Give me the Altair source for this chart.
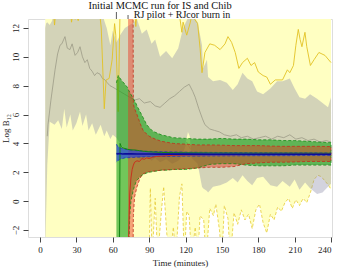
import altair as alt
import pandas as pd

# ---- x ticks / y ticks ----
x_ticks = [0, 30, 60, 90, 120, 150, 180, 210, 240]
y_ticks = [-2, 0, 2, 4, 6, 8, 10, 12]

# ---- phase boundaries (minutes) ----
phase_end = [63, 72.6]
phase_text = ["Initial MCMC run for IS and Chib", "RJ pilot + RJcor burn in"]

# ---- grey band (estimator spread) ----
gray_t = [4.3, 5, 6, 8, 10, 12, 15, 18, 20, 22, 25, 27, 30, 33, 35, 38, 40, 43, 46, 50,
          53, 55, 58, 60, 63, 66, 70, 76, 80, 84, 88, 92, 95, 99, 104, 109, 114, 118, 122, 123.5,
          125, 130, 133.6, 134.4, 137.7, 138.6, 142.7, 148.5, 154, 159, 163, 167, 171, 175, 179, 184,
          190, 195.5, 200, 206, 210, 214, 218.6, 222.7, 228.5, 233, 237.5, 240]
gray_lo = [-4, -1, 2.5, 5.5, 5.4, 5.3, 5.6, 5.0, 6.4, 5.1, 6.0, 4.9, 5.4, 6.2, 5.2, 6.0, 4.9, 5.4, 4.6, 5.3,
           4.5, 4.9, 4.3, 4.6, 4.4, 4.0, 3.6, 3.3, 3.0, 2.9, 3.1, 2.8, 3.0, 2.7, 2.9, 2.6, 2.8, 3.2, 4.8, 4.5,
           3.0, 2.6, 1.0, 0.9, 0.7, 0.6, 1.0, 1.1, 1.3, 1.6, 1.3, 1.8, 1.4, 1.1, 1.6, 1.7,
           1.1, 1.0, 1.4, 1.0, 1.5, 0.8, 1.3, 0.9, 0.5, 0.6, 1.0, 1.2]
gray_hi = [12.0, 12.3, 12.4, 12.2, 12.5, 13.5, 13.5, 13.5, 13.5, 13.5, 13.5, 13.5, 13.5, 13.5, 13.5, 13.5, 13.5, 13.5, 13.5, 13.5,
           12.5, 12.0, 10.8, 11.8, 11.0, 11.5, 12.0, 12.3, 12.6, 11.6, 11.9, 10.9, 11.2, 10.0, 10.4, 9.9, 10.6, 12.0, 12.7, 12.8,
           13.0, 12.4, 10.8, 9.2, 9.8, 8.6, 8.3, 8.4, 8.2, 7.7, 8.1, 8.9, 8.5, 8.3, 7.6, 7.4,
           7.8, 8.3, 8.3, 8.5, 7.8, 7.2, 7.1, 7.4, 7.1, 6.8, 6.5, 7.2]
gray_mid_t = [6, 6.6, 9, 12.4, 14.5, 16.5, 18, 20.6, 22.5, 24.7, 26.5, 28.9, 31, 33, 35, 37, 39, 41, 43, 45,
              47, 49.5, 51.5, 53.6, 55.5, 57.7, 60, 62, 66, 70, 74, 78, 82, 86, 91, 95, 99, 103, 107, 111,
              115, 119, 123, 126, 128, 131, 134, 136, 140, 144, 148, 152, 157, 162, 166, 171, 176, 181, 186, 191,
              196, 201, 206, 211, 216, 221, 226, 231, 236, 240]
gray_mid = [4.5, 5.3, 7.0, 9.1, 10.2, 10.8, 10.9, 11.4, 10.6, 10.5, 10.9, 10.1, 10.3, 10.7, 10.0, 9.6, 9.8, 9.2, 9.0, 8.7,
            8.9, 8.8, 8.5, 8.4, 8.2, 8.0, 7.9, 7.8, 7.6, 7.4, 7.2, 7.0, 7.1, 6.8, 6.9, 6.6, 6.5, 6.8, 7.1, 7.3,
            7.6, 7.9, 8.1, 7.6, 7.2, 6.4, 5.7, 5.3, 5.0, 4.9, 4.8, 4.6, 4.5, 4.6, 4.4, 4.5, 4.3, 4.4, 4.5, 4.3,
            4.5, 4.4, 4.6, 4.3, 4.4, 4.2, 4.3, 4.1, 4.2, 4.1]

# ---- yellow band (lower edge; upper edge lies above the plot) ----
yel_t = [4.3, 88, 90, 91, 92.5, 95, 97, 100, 102, 104.5, 107, 110, 112, 115, 117, 119, 121, 123, 125, 128,
         130, 132, 135, 137, 140, 143, 145, 148, 150, 152, 155, 157, 160, 163, 166, 169, 172, 175, 178, 181,
         184, 187, 190, 193, 196, 199, 202, 205, 208, 211, 214, 217, 220, 223, 226, 229, 232, 235, 238, 240]
yel_lo = [-4, -4, -4, 0.9, -4, 0.2, -4, -0.8, 1.0, -2.2, -4, -1.8, -4, 0.3, 1.2, -4, -0.7, -1.0, -4, -1.8,
          -4, -1.0, -1.3, -4, -0.5, -1.0, -0.2, -2.0, -4, -0.3, -1.2, -4, -0.8, -1.6, -0.6, -1.3, -0.9, -1.9, -0.6, -0.2,
          -1.5, -2.2, -0.9, -1.3, -0.4, -0.7, -0.1, 0.2, -0.5, 0.1, -0.3, 0.2, -0.1, 0.6, 1.5, 1.8, 1.7, 1.4, 1.1, 0.8]
yel_mid_t = [5, 11, 12, 13, 25, 26, 27, 29, 30, 31.5, 33, 49, 50.5, 53, 54.5, 57, 59.5, 61.5, 62.5, 64.5,
             66, 78, 79, 80, 113, 115.5, 117, 118, 121, 124, 125, 130, 132, 133.6, 136, 140, 144, 148.5, 152.6, 155,
             158, 161, 164, 167, 171, 174, 177, 180, 184, 187, 190, 194, 200, 204, 206, 209, 211, 213, 214.5, 216,
             218.5, 220, 223, 226, 230, 235, 240]
yel_mid = [14, 13.2, 12.2, 13.2, 13.2, 12.4, 13.0, 12.6, 12.9, 12.5, 13.2, 13.2, 12.0, 6.4, 8.4, 8.5, 9.8, 12.3, 11.5, 6.2,
           13.2, 13.2, 12.1, 13.2, 13.2, 12.6, 11.7, 12.4, 11.5, 12.4, 12.9, 12.3, 10.6, 8.9, 10.3, 10.9, 10.8, 10.5, 10.9, 11.4,
           11.0, 10.3, 9.2, 9.6, 9.9, 9.4, 9.6, 8.95, 8.7, 8.6, 8.1, 8.4, 8.4, 9.1, 8.9, 9.4, 10.8, 11.9, 11.2, 10.7,
           11.7, 10.7, 9.4, 9.8, 10.3, 10.1, 9.6]

# ---- green band ----
green_t = [63, 64.5, 67, 70, 72, 73, 74, 75, 77, 79, 80, 82.5, 85, 88, 90, 93, 97, 100, 105, 110,
           120, 130, 140, 150, 160, 170, 180, 190, 200, 210, 220, 230, 240]
green_hi = [8.2, 8.7, 8.4, 8.1, 7.9, 7.7, 7.55, 7.4, 7.1, 6.8, 6.6, 6.2, 5.8, 5.3, 5.1, 4.85, 4.7, 4.6, 4.5, 4.4,
            4.35, 4.3, 4.3, 4.35, 4.3, 4.3, 4.25, 4.25, 4.2, 4.2, 4.15, 4.1, 4.05]
green_lo = [-4, -4, -4, -4, -4, -4, -1.0, 0.0, 0.8, 1.3, 1.45, 1.7, 1.85, 1.95, 2.0, 2.05, 2.1, 2.15, 2.15, 2.2,
            2.2, 2.3, 2.55, 2.6, 2.6, 2.5, 2.45, 2.45, 2.45, 2.5, 2.5, 2.5, 2.5]
green_mid_t = [65.5, 66, 67, 68, 70, 72, 75, 78, 82, 86, 90, 95, 100, 110, 120, 140, 170, 200, 240]
green_mid = [-4, 4.0, 3.8, 3.7, 3.65, 3.6, 3.55, 3.55, 3.5, 3.45, 3.42, 3.4, 3.38, 3.36, 3.35, 3.34, 3.33, 3.33, 3.32]

# ---- red band ----
red_t = [72.6, 74, 76, 76.7, 77, 78, 80, 82.5, 85, 88, 90, 95, 100, 110, 120, 130, 140, 150, 160, 170,
         180, 190, 200, 210, 220, 230, 240]
red_hi = [15, 15, 15, 15, 6.7, 6.4, 6.0, 5.4, 4.9, 4.65, 4.5, 4.3, 4.15, 4.0, 3.95, 3.9, 3.9, 3.88, 3.85, 3.85,
          3.85, 3.82, 3.8, 3.8, 3.8, 3.8, 3.78]
red_lo = [-4, -4, -4, -4, -1.0, 0.3, 1.0, 1.6, 1.9, 2.0, 2.05, 2.1, 2.15, 2.2, 2.25, 2.3, 2.35, 2.35, 2.4, 2.6,
          2.65, 2.7, 2.7, 2.72, 2.75, 2.75, 2.75]
red_mid_t = [73, 74, 75, 76, 77, 78, 80, 82, 84, 86, 88, 90, 93, 96, 100, 105, 110, 120, 140, 160, 180, 200, 220, 240]
red_mid = [-3, 0.5, 1.6, 2.2, 2.5, 2.7, 2.8, 2.75, 2.95, 2.9, 3.0, 2.95, 3.05, 3.1, 3.12, 3.15, 3.18, 3.2, 3.22, 3.22,
           3.24, 3.24, 3.25, 3.25]

# ---- blue band ----
blue_t = [63, 64, 66, 68, 70, 75, 80, 90, 100, 120, 140, 160, 180, 200, 220, 240]
blue_lo = [2.7, 2.8, 2.9, 2.95, 3.0, 3.02, 3.05, 3.08, 3.1, 3.12, 3.13, 3.14, 3.15, 3.15, 3.16, 3.16]
blue_hi = [3.95, 3.8, 3.7, 3.65, 3.6, 3.55, 3.5, 3.45, 3.43, 3.4, 3.38, 3.37, 3.36, 3.35, 3.35, 3.34]
blue_mid = [3.3, 3.28, 3.3, 3.27, 3.29, 3.28, 3.27, 3.27, 3.26, 3.26, 3.25, 3.25, 3.25, 3.25, 3.25, 3.25]

# ---- pale running estimate ----
pale_t = [82, 85, 88, 91, 94, 97, 100, 103, 106, 109, 112, 115, 118, 121, 124, 127, 130, 133]
pale_v = [2.9, 3.4, 3.0, 3.6, 3.2, 3.7, 3.3, 3.8, 3.4, 3.6, 3.2, 3.9, 3.5, 4.1, 3.6, 3.9, 3.4, 3.8]

FONT = "Liberation Serif"
xs = alt.Scale(domain=[-9.9, 240.8], nice=False, zero=False)
ys = alt.Scale(domain=[-2.48, 12.62], nice=False, zero=False)
x_axis = alt.Axis(values=x_ticks, grid=False, domain=False, tickSize=5, tickColor="#444",
                  labelFont=FONT, labelFontSize=9, labelColor="#222", labelPadding=3, labelOverlap=False,
                  titleFont=FONT, titleFontSize=9, titleFontWeight="normal", titleColor="#222", titlePadding=4)
y_axis = alt.Axis(values=y_ticks, grid=False, domain=False, tickSize=5, tickColor="#444",
                  labelFont=FONT, labelFontSize=9, labelColor="#222", labelAngle=270, labelOverlap=False,
                  labelAlign="center", labelBaseline="bottom", labelPadding=3,
                  titleFont=FONT, titleFontSize=9, titleFontWeight="normal", titleColor="#222", titlePadding=1)


def X(f="t"):
    return alt.X(f"{f}:Q", scale=xs, axis=x_axis, title="Time (minutes)")


def Y(f):
    return alt.Y(f"{f}:Q", scale=ys, axis=y_axis, title="Log B₁₂")


def band(t, lo, hi):
    return pd.DataFrame({"t": t, "lo": lo, "hi": hi})


def series(t, v):
    return pd.DataFrame({"t": t, "v": v})


def outline(t, lo, hi):
    tt = list(t) + list(reversed(t))
    vv = list(hi) + list(reversed(lo))
    return pd.DataFrame({"t": tt, "v": vv, "i": list(range(len(tt)))})


def area(df, color, opacity):
    return alt.Chart(df).mark_area(clip=True, color=color, opacity=opacity, interpolate="linear").encode(
        x=X(), y=Y("lo"), y2="hi:Q")


def line(df, color, width=1.0, dash=None, order=False):
    kw = dict(clip=True, color=color, strokeWidth=width)
    if dash:
        kw["strokeDash"] = dash
    enc = dict(x=X(), y=Y("v"))
    if order:
        enc["order"] = alt.Order("i:Q")
    return alt.Chart(df).mark_line(**kw).encode(**enc)


# yellow band runs from its lower edge up past the top of the frame
yellow_area = alt.Chart(pd.DataFrame({"t": yel_t, "lo": yel_lo})).mark_area(
    clip=True, color="#FFFFC2", opacity=1).encode(x=X(), y=Y("lo"), y2=alt.datum(15))
yellow_edge = line(series(yel_t, yel_lo), "#E6CC36", 0.8, [3, 2])

gray_area = area(band(gray_t, gray_lo, gray_hi), "#8C8CA8", 0.38)
gray_line = line(series(gray_mid_t, gray_mid), "#9C9A86", 0.8)
yellow_line = line(series(yel_mid_t, yel_mid), "#E2C224", 0.9)
pale_line = line(series(pale_t, pale_v), "#D8D6A4", 0.8)

green_area = area(band(green_t, green_lo, green_hi), "#14A014", 0.6)
red_area = area(band(red_t, red_lo, red_hi), "#EB321E", 0.45)
blue_area = area(band(blue_t, blue_lo, blue_hi), "#2A44E0", 0.7)

green_edge = line(outline(green_t, green_lo, green_hi), "#168C16", 0.8, [3, 2], order=True)
red_edge = line(outline(red_t, red_lo, red_hi), "#C0301C", 0.8, [3, 2], order=True)
blue_edge = line(outline(blue_t, blue_lo, blue_hi), "#1A2ABF", 0.7, [3, 2], order=True)

green_line = line(series(green_mid_t, green_mid), "#128412", 1.0)
red_line = line(series(red_mid_t, red_mid), "#C8321E", 1.0)
blue_line = line(series(blue_t, blue_mid), "#0C0C9A", 1.6)

# phase markers above the frame
marks_df = pd.DataFrame({"t": phase_end, "label": phase_text})
mark1 = alt.Chart(marks_df.iloc[[0]]).mark_rule(color="#333", strokeWidth=0.8).encode(
    x=X(), y=alt.value(-7), y2=alt.value(0))
mark2 = alt.Chart(marks_df.iloc[[1]]).mark_rule(color="#333", strokeWidth=0.8).encode(
    x=X(), y=alt.value(-4), y2=alt.value(0))
text1 = alt.Chart(marks_df.iloc[[0]]).mark_text(font=FONT, fontSize=10.4, color="#111", baseline="alphabetic").encode(
    x=alt.value(132), y=alt.value(-9.8), text="label:N")
text2 = alt.Chart(marks_df.iloc[[1]]).mark_text(font=FONT, fontSize=10, color="#111", baseline="alphabetic").encode(
    x=alt.value(154), y=alt.value(-1.5), text="label:N")

chart = alt.layer(
    yellow_area, yellow_edge, gray_area, gray_line, yellow_line, pale_line,
    green_area, red_area, blue_area,
    green_edge, red_edge, blue_edge,
    green_line, red_line, blue_line,
    mark1, mark2, text1, text2,
).properties(
    width=304, height=218,
    padding={"left": 28, "top": 19, "right": 12, "bottom": 32},
    autosize="none",
).configure_view(stroke="#555", strokeWidth=1).configure(background="white")

chart.save("out.html", embed_options={"renderer": "svg", "actions": False})
